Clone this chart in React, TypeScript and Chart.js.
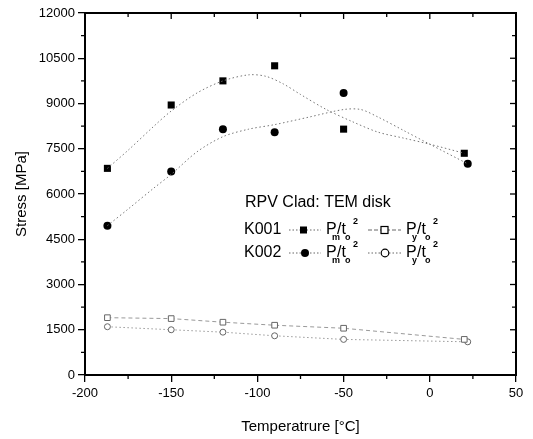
import React, { useEffect, useRef } from "react";
import { Chart, registerables } from "chart.js";
Chart.register(...registerables);

// ---- data ----
const tempK001 = [-187, -150, -120, -90, -50, 20];
const tempK002 = [-187, -150, -120, -90, -50, 22];
const k001Pm = [6850, 8950, 9750, 10250, 8150, 7350];
const k002Pm = [4950, 6750, 8150, 8050, 9350, 7000];
const k001Py = [1900, 1870, 1750, 1650, 1550, 1180];
const k002Py = [1600, 1500, 1420, 1300, 1180, 1100];

// smooth fit curves
const fitTempK001 = [-187, -175, -160, -150, -135, -120, -105, -95, -85, -75, -60, -45, -30, -15, 0, 20];
const fitK001Pm = [6850, 7450, 8250, 8750, 9350, 9750, 9950, 9900, 9650, 9300, 8800, 8400, 8050, 7850, 7650, 7350];
const fitTempK002 = [-187, -175, -160, -150, -135, -120, -105, -90, -70, -50, -40, -30, -15, 0, 22];
const fitK002Pm = [4950, 5500, 6200, 6650, 7400, 7900, 8150, 8300, 8550, 8800, 8800, 8550, 8100, 7650, 7000];

const xTicks = [-200, -150, -100, -50, 0, 50];
const yTicks = [0, 1500, 3000, 4500, 6000, 7500, 9000, 10500, 12000];

const FONT = "'Liberation Sans', Arial, sans-serif";

const pts = (xs: number[], ys: number[]) => xs.map((x, i) => ({ x, y: ys[i] }));

const framePlugin = {
  id: "frame",
  afterDraw(chart: any) {
    const { ctx, chartArea: a, scales } = chart;
    const xs = scales.x;
    const ys = scales.y;
    ctx.save();
    ctx.strokeStyle = "#000";
    ctx.lineWidth = 2;
    ctx.strokeRect(a.left, a.top, a.right - a.left, a.bottom - a.top);
    ctx.lineWidth = 1.3;
    for (let i = 0; i < xTicks.length; i++) {
      const px = xs.getPixelForValue(xTicks[i]);
      ctx.beginPath();
      ctx.moveTo(px, a.top);
      ctx.lineTo(px, a.top + 6);
      ctx.stroke();
      if (i < xTicks.length - 1) {
        const mx = xs.getPixelForValue((xTicks[i] + xTicks[i + 1]) / 2);
        ctx.beginPath();
        ctx.moveTo(mx, a.bottom);
        ctx.lineTo(mx, a.bottom + 4);
        ctx.moveTo(mx, a.top);
        ctx.lineTo(mx, a.top + 4);
        ctx.stroke();
      }
    }
    for (let i = 0; i < yTicks.length; i++) {
      const py = ys.getPixelForValue(yTicks[i]);
      ctx.beginPath();
      ctx.moveTo(a.right, py);
      ctx.lineTo(a.right - 6, py);
      ctx.stroke();
      if (i < yTicks.length - 1) {
        const my = ys.getPixelForValue((yTicks[i] + yTicks[i + 1]) / 2);
        ctx.beginPath();
        ctx.moveTo(a.left, my);
        ctx.lineTo(a.left - 4, my);
        ctx.moveTo(a.right, my);
        ctx.lineTo(a.right - 4, my);
        ctx.stroke();
      }
    }
    ctx.restore();
  },
};

function drawPT(ctx: CanvasRenderingContext2D, x: number, y: number, sub: string) {
  ctx.textBaseline = "middle";
  ctx.textAlign = "left";
  ctx.font = `16px ${FONT}`;
  ctx.fillText("P", x, y);
  ctx.font = `bold 9px ${FONT}`;
  ctx.fillText(sub, x + 6, y + 8);
  ctx.font = `16px ${FONT}`;
  ctx.fillText("/t", x + 11, y);
  ctx.font = `bold 9px ${FONT}`;
  ctx.fillText("o", x + 19, y + 8);
  ctx.fillText("2", x + 27, y - 8);
}

const legendPlugin = {
  id: "customLegend",
  afterDraw(chart: any) {
    const ctx: CanvasRenderingContext2D = chart.ctx;
    ctx.save();
    ctx.fillStyle = "#000";
    ctx.strokeStyle = "#000";
    ctx.font = `16px ${FONT}`;
    ctx.textBaseline = "middle";
    ctx.textAlign = "left";
    ctx.fillText("RPV Clad: TEM disk", 245, 203);
    const rows = [
      { label: "K001", y: 230, mark: "square" },
      { label: "K002", y: 253, mark: "circle" },
    ];
    for (const r of rows) {
      ctx.font = `16px ${FONT}`;
      ctx.fillStyle = "#000";
      ctx.fillText(r.label, 244, r.y);
      ctx.strokeStyle = "#666";
      ctx.lineWidth = 1;
      ctx.setLineDash([1.5, 2]);
      ctx.beginPath();
      ctx.moveTo(289, r.y);
      ctx.lineTo(321, r.y);
      ctx.stroke();
      ctx.setLineDash([]);
      ctx.fillStyle = "#000";
      if (r.mark === "square") {
        ctx.fillRect(300, r.y - 3.5, 7, 7);
      } else {
        ctx.beginPath();
        ctx.arc(305, r.y, 4, 0, Math.PI * 2);
        ctx.fill();
      }
      drawPT(ctx, 326, r.y, "m");
      ctx.strokeStyle = "#666";
      ctx.setLineDash(r.mark === "square" ? [4, 2] : [1.5, 2]);
      ctx.beginPath();
      ctx.moveTo(368, r.y);
      ctx.lineTo(401, r.y);
      ctx.stroke();
      ctx.setLineDash([]);
      ctx.fillStyle = "#fff";
      ctx.strokeStyle = "#000";
      ctx.lineWidth = 1.2;
      if (r.mark === "square") {
        ctx.fillRect(381, r.y - 3.5, 7, 7);
        ctx.strokeRect(381, r.y - 3.5, 7, 7);
      } else {
        ctx.beginPath();
        ctx.arc(385, r.y, 3.8, 0, Math.PI * 2);
        ctx.fill();
        ctx.stroke();
      }
      ctx.fillStyle = "#000";
      drawPT(ctx, 406, r.y, "y");
    }
    ctx.restore();
  },
};

export default function App() {
  const ref = useRef<HTMLCanvasElement>(null);
  useEffect(() => {
    const chart = new Chart(ref.current as HTMLCanvasElement, {
      type: "scatter",
      data: {
        datasets: [
          {
            label: "K001 Pm fit",
            data: pts(fitTempK001, fitK001Pm),
            showLine: true,
            borderColor: "#777",
            borderWidth: 1,
            borderDash: [1.5, 2.5],
            pointRadius: 0,
            tension: 0.3,
          },
          {
            label: "K002 Pm fit",
            data: pts(fitTempK002, fitK002Pm),
            showLine: true,
            borderColor: "#777",
            borderWidth: 1,
            borderDash: [1.5, 2.5],
            pointRadius: 0,
            tension: 0.3,
          },
          {
            label: "K001 Py",
            data: pts(tempK001, k001Py),
            showLine: true,
            borderColor: "#999",
            borderWidth: 1,
            borderDash: [4, 3],
            pointStyle: "rect",
            pointRadius: 4,
            pointBorderColor: "#666",
            pointBackgroundColor: "#fff",
            pointBorderWidth: 1,
          },
          {
            label: "K002 Py",
            data: pts(tempK002, k002Py),
            showLine: true,
            borderColor: "#999",
            borderWidth: 1,
            borderDash: [1.5, 2.5],
            pointStyle: "circle",
            pointRadius: 3,
            pointBorderColor: "#666",
            pointBackgroundColor: "#fff",
            pointBorderWidth: 1,
          },
          {
            label: "K001 Pm",
            data: pts(tempK001, k001Pm),
            showLine: false,
            pointStyle: "rect",
            pointRadius: 5,
            pointBackgroundColor: "#000",
            pointBorderColor: "#000",
            pointBorderWidth: 0,
          },
          {
            label: "K002 Pm",
            data: pts(tempK002, k002Pm),
            showLine: false,
            pointStyle: "circle",
            pointRadius: 4,
            pointBackgroundColor: "#000",
            pointBorderColor: "#000",
            pointBorderWidth: 0,
          },
        ],
      },
      options: {
        animation: false,
        responsive: false,
        events: [],
        layout: { padding: { top: 13, right: 17, left: 0, bottom: 0 } },
        plugins: { legend: { display: false }, tooltip: { enabled: false } },
        scales: {
          x: {
            type: "linear",
            min: -200,
            max: 50,
            afterBuildTicks: (s: any) => {
              s.ticks = xTicks.map((v) => ({ value: v }));
            },
            afterFit: (s: any) => {
              s.height = 64;
            },
            grid: { drawOnChartArea: false, drawTicks: true, tickLength: 7, color: "#000", lineWidth: 1.3 },
            border: { display: true, color: "#000", width: 2 },
            ticks: {
              color: "#000",
              font: { family: FONT, size: 13 },
              padding: 4,
              maxRotation: 0,
              callback: (v: any) => String(v),
            },
            title: {
              display: true,
              text: "Temperatrure [°C]",
              color: "#000",
              font: { family: FONT, size: 15 },
              padding: { top: 0, bottom: 3 },
            },
          },
          y: {
            type: "linear",
            min: 0,
            max: 12000,
            afterBuildTicks: (s: any) => {
              s.ticks = yTicks.map((v) => ({ value: v }));
            },
            afterFit: (s: any) => {
              s.width = 85;
            },
            grid: { drawOnChartArea: false, drawTicks: true, tickLength: 7, color: "#000", lineWidth: 1.3 },
            border: { display: true, color: "#000", width: 2 },
            ticks: {
              color: "#000",
              font: { family: FONT, size: 13 },
              padding: 3,
              callback: (v: any) => String(v),
            },
            title: {
              display: true,
              text: "Stress [MPa]",
              color: "#000",
              font: { family: FONT, size: 15 },
              padding: { top: 13, bottom: 0 },
            },
          },
        },
      },
      plugins: [framePlugin, legendPlugin],
    } as any);
    return () => chart.destroy();
  }, []);
  return (
    <div style={{ position: "absolute", left: 0, top: 0, width: 533, height: 439, background: "#fff" }}>
      <canvas ref={ref} width={533} height={439} style={{ width: 533, height: 439, display: "block" }} />
    </div>
  );
}
